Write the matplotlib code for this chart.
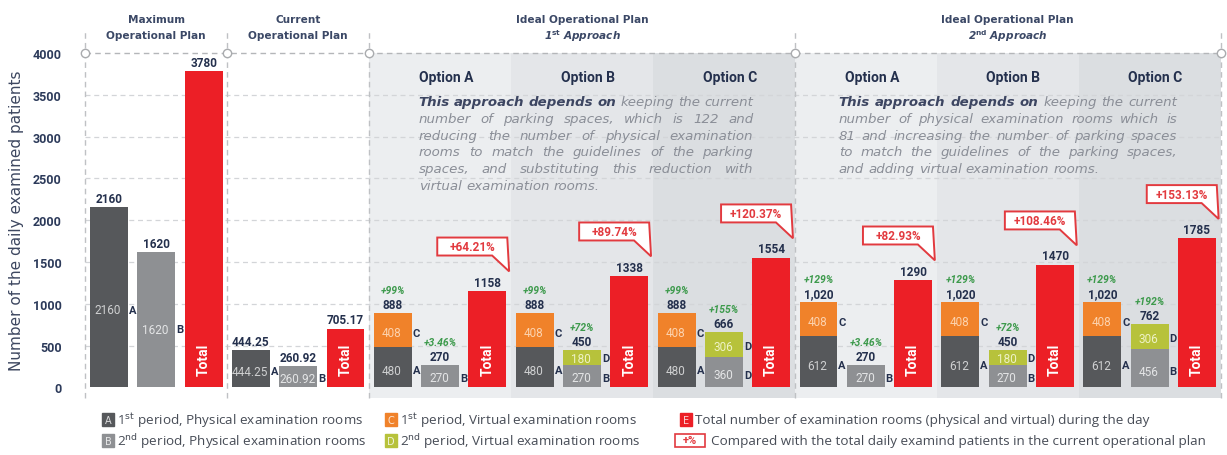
import matplotlib
matplotlib.use("Agg")
import matplotlib.pyplot as plt
from matplotlib import font_manager
from matplotlib.patches import Rectangle, Polygon

# groups of three bars: [A(+C) stack, B(+D) stack, Total]
groups = ["Maximum", "Current", "1st-A", "1st-B", "1st-C", "2nd-A", "2nd-B", "2nd-C"]
phys_1st = [2160, 444.25, 480, 480, 480, 612, 612, 612]      # A
virt_1st = [0, 0, 408, 408, 408, 408, 408, 408]              # C
phys_2nd = [1620, 260.92, 270, 270, 360, 270, 270, 456]      # B
virt_2nd = [0, 0, 0, 180, 306, 0, 180, 306]                  # D
totals = [3780, 705.17, 1158, 1338, 1554, 1290, 1470, 1785]

stack1_labels = ["2160", "444.25", "888", "888", "888", "1,020", "1,020", "1,020"]
stack2_labels = ["1620", "260.92", "270", "450", "666", "270", "450", "762"]
stack1_pct = ["", "", "+99%", "+99%", "+99%", "+129%", "+129%", "+129%"]
stack2_pct = ["", "", "+3.46%", "+72%", "+155%", "+3.46%", "+72%", "+192%"]
total_pct = ["", "", "+64.21%", "+89.74%", "+120.37%", "+82.93%", "+108.46%", "+153.13%"]
phys_2nd_letter = ["B", "B", "B", "B", "D", "B", "B", "B"]

yticks = [0, 500, 1000, 1500, 2000, 2500, 3000, 3500, 4000]

section_titles = [
    (1, "Maximum", "Operational Plan"),
    (4, "Current", "Operational Plan"),
    (10, "Ideal Operational Plan", r"1$^{\mathbf{st}}$ Approach"),
    (19, "Ideal Operational Plan", r"2$^{\mathbf{nd}}$ Approach"),
]
option_names = ["Option A", "Option B", "Option C"] * 2

para_1st = [
    "This approach depends on keeping the current",
    "number of parking spaces, which is 122 and",
    "reducing the number of physical examination",
    "rooms to match the guidelines of the parking",
    "spaces, and substituting this reduction with",
    "virtual examination rooms.",
]
para_2nd = [
    "This approach depends on keeping the current",
    "number of physical examination rooms which is",
    "81 and increasing the number of parking spaces",
    "to match the guidelines of the parking spaces,",
    "and adding virtual examination rooms.",
]

legend_items = [
    ("A", r"1$^{\rm st}$ period, Physical examination rooms"),
    ("B", r"2$^{\rm nd}$ period, Physical examination rooms"),
    ("C", r"1$^{\rm st}$ period, Virtual examination rooms"),
    ("D", r"2$^{\rm nd}$ period, Virtual examination rooms"),
    ("E", "Total number of examination rooms (physical and virtual) during the day"),
]
pct_legend = "Compared with the total daily examind patients in the current operational plan"

# colours
c_a = "#56585b"
c_b = "#8e9093"
c_c = "#f0822a"
c_d = "#b7c23b"
c_tot = "#ec1f26"
c_navy = "#24304d"
c_green = "#3d9a4c"
c_callout = "#e23a3f"
shade = ["#eceef0", "#e4e6e9", "#dbdee1"]

names = {f.name for f in font_manager.fontManager.ttflist}
narrow = "Liberation Sans Narrow" if "Liberation Sans Narrow" in names else "Roboto"
opt_size = 10.6 if narrow != "Roboto" else 10

fig = plt.figure(figsize=(12.27, 4.56), dpi=100)
ax = fig.add_axes([85.35 / 1227, (456 - 398.5) / 456, 1135.2 / 1227, 344.5 / 456])
ax.set_xlim(-0.5, 23.5)
ax.set_ylim(-120, 4000)
for s in ax.spines.values():
    s.set_visible(False)
ax.set_xticks([])
ax.set_yticks(yticks)
ax.tick_params(axis="y", length=0, pad=17)
for lbl in ax.get_yticklabels():
    lbl.set_fontfamily("Roboto")
    lbl.set_fontweight("bold")
    lbl.set_fontsize(9)
    lbl.set_color("#2c3a5a")

# background shading of the ideal plans
for k in range(6):
    g = 2 + k
    ax.axvspan(3 * g - 0.5, 3 * g + 2.5, color=shade[k % 3], lw=0, zorder=0.5)

ax.hlines(yticks[1:-1], -0.5, 23.5, colors="#d3d5d8", linestyles=(0, (4, 3)), lw=0.9, zorder=1)
ax.hlines(4000, -0.5, 23.5, colors="#b4b6b9", linestyles=(0, (4, 3)), lw=1.0, zorder=1.5, clip_on=False)
bounds = [-0.5, 2.5, 5.5, 14.5, 23.5]
ax.vlines(bounds, -120, 4250, colors="#bfc1c4", linestyles=(0, (4, 3)), lw=1.0, zorder=1.5, clip_on=False)
ax.plot(bounds, [4000] * len(bounds), "o", ms=6, mfc="white", mec="#a9abae", mew=1.0,
        zorder=4, clip_on=False)

lab_kw = dict(fontfamily="Roboto", fontsize=8.5, ha="center", zorder=6)
for g in range(len(groups)):
    xa, xb, xt = 3 * g, 3 * g + 1, 3 * g + 2
    ax.bar(xa, phys_1st[g], 0.8, color=c_a, zorder=3)
    ax.bar(xa, virt_1st[g], 0.8, bottom=phys_1st[g], color=c_c, zorder=3)
    ax.bar(xb, phys_2nd[g], 0.8, color=c_b, zorder=3)
    ax.bar(xb, virt_2nd[g], 0.8, bottom=phys_2nd[g], color=c_d, zorder=3)
    ax.bar(xt, totals[g], 0.8, color=c_tot, zorder=3)

    segs = [(xa, 0, phys_1st[g], "#cfd0d1", "A"),
            (xa, phys_1st[g], virt_1st[g], "#fcd2ae", "C"),
            (xb, 0, phys_2nd[g], "#e4e5e6", phys_2nd_letter[g]),
            (xb, phys_2nd[g], virt_2nd[g], "#eef2c6", "D")]
    for x, y0, h, col, letter in segs:
        if h <= 0:
            continue
        yc = y0 + 0.43 * h
        ax.text(x - 0.02, yc, f"{h:g}", color=col, va="center", **lab_kw)
        ax.text(x + 0.42, yc, letter, color=c_navy, fontfamily="Roboto", fontsize=8,
                fontweight="bold", va="center", ha="left", zorder=6)

    ax.text(xt, 340, "Total", rotation=90, color="white", fontfamily="Roboto",
            fontsize=10, fontweight="bold", ha="center", va="center", zorder=6)

    top1 = phys_1st[g] + virt_1st[g]
    top2 = phys_2nd[g] + virt_2nd[g]
    for x, top, txt, pct in [(xa, top1, stack1_labels[g], stack1_pct[g]),
                             (xb, top2, stack2_labels[g], stack2_pct[g]),
                             (xt, totals[g], f"{totals[g]:g}", "")]:
        ax.annotate(txt, (x, top), xytext=(0, 1.5), textcoords="offset points",
                    ha="center", va="bottom", fontfamily="Roboto", fontsize=8.5,
                    fontweight="bold", color=c_navy, zorder=6)
        if pct:
            ax.annotate(pct, (x, top), xytext=(0, 13), textcoords="offset points",
                        ha="center", va="bottom", fontfamily="Roboto", fontsize=7.5,
                        fontweight="bold", fontstyle="italic", color=c_green, zorder=6)

    if total_pct[g]:
        right = xt + 0.42
        left = right - 1.48
        bottom = totals[g] + 420
        top = bottom + 215
        ax.add_patch(Polygon([(left, bottom), (right - 0.32, bottom), (right + 0.04, bottom - 190),
                              (right, top), (left, top)], closed=True, fc="white",
                             ec=c_callout, lw=1.4, zorder=7))
        ax.text((left + right) / 2, (bottom + top) / 2, total_pct[g], color=c_callout,
                fontfamily="Roboto", fontsize=8.5, fontweight="bold", ha="center",
                va="center", zorder=8)

# section titles
for xc, l1, l2 in section_titles:
    ax.text(xc, 4406, l1, ha="center", va="center", fontsize=7.6, fontweight="bold",
            color="#3b4866", clip_on=False)
    ax.text(xc, 4215, l2, ha="center", va="center", fontsize=7.6, fontweight="bold",
            fontstyle="italic" if "Approach" in l2 else "normal", color="#3b4866", clip_on=False)

for k, name in enumerate(option_names):
    ax.text(3 * (2 + k) + 0.55, 3713, name, ha="left", va="center", fontfamily=narrow,
            fontsize=opt_size, fontweight="bold", color=c_navy, zorder=6)

# justified paragraphs, word by word
para_words = []
for x0, x1, lines in [(6.55, 13.62, para_1st), (15.43, 22.58, para_2nd)]:
    for i, line in enumerate(lines):
        y = 3375 - 200 * i
        ts = []
        for j, w in enumerate(line.split()):
            bold = i == 0 and j < 4
            ts.append(ax.text(x0, y, w, va="baseline", ha="left", fontsize=9.6,
                              fontfamily="DejaVu Sans", fontstyle="italic",
                              fontweight="bold" if bold else "normal",
                              color="#3d4662" if bold else "#8a8e97", zorder=6))
        para_words.append((x0, x1, ts, i == len(lines) - 1))

fig.canvas.draw()
rend = fig.canvas.get_renderer()
inv = ax.transData.inverted()
for x0, x1, ts, last in para_words:
    widths = []
    for t in ts:
        bb = t.get_window_extent(rend)
        (a, _), (b, _) = inv.transform([[bb.x0, bb.y0], [bb.x1, bb.y0]])
        widths.append(b - a)
    gap = 0.09 if last else max(0.05, (x1 - x0 - sum(widths)) / (len(ts) - 1))
    x = x0
    for t, w in zip(ts, widths):
        t.set_x(x)
        x += w + gap

# overlay in pixel units for legend and axis label
lax = fig.add_axes([0, 0, 1, 1])
lax.set_xlim(0, 1227)
lax.set_ylim(456, 0)
lax.axis("off")

lax.text(17, 221, "Number of the daily examined patients", rotation=90, ha="center",
         va="center", fontsize=11, color="#3d4760")

sq_pos = [(102, 421), (102, 442), (385, 421), (385, 442), (680, 421)]
sq_col = [c_a, c_b, c_c, c_d, c_tot]
for (x, y), col, (letter, text) in zip(sq_pos, sq_col, legend_items):
    lax.add_patch(Rectangle((x, y - 6.5), 12, 13, color=col))
    lax.text(x + 6, y, letter, color="white", alpha=0.8, fontsize=7, ha="center", va="center")
    lax.text(x + 15, y, text, fontfamily="Open Sans", fontsize=9.7, color="#474c56",
             ha="left", va="center")
lax.add_patch(Rectangle((675, 435), 30, 13, fc="white", ec=c_callout, lw=1.2))
lax.text(690, 441.5, "+%", color=c_callout, fontfamily="Roboto", fontweight="bold",
         fontsize=8, ha="center", va="center")
lax.text(711, 442, pct_legend, fontfamily="Open Sans", fontsize=9.7, color="#474c56",
         ha="left", va="center")

fig.savefig("out.png", dpi=100)
